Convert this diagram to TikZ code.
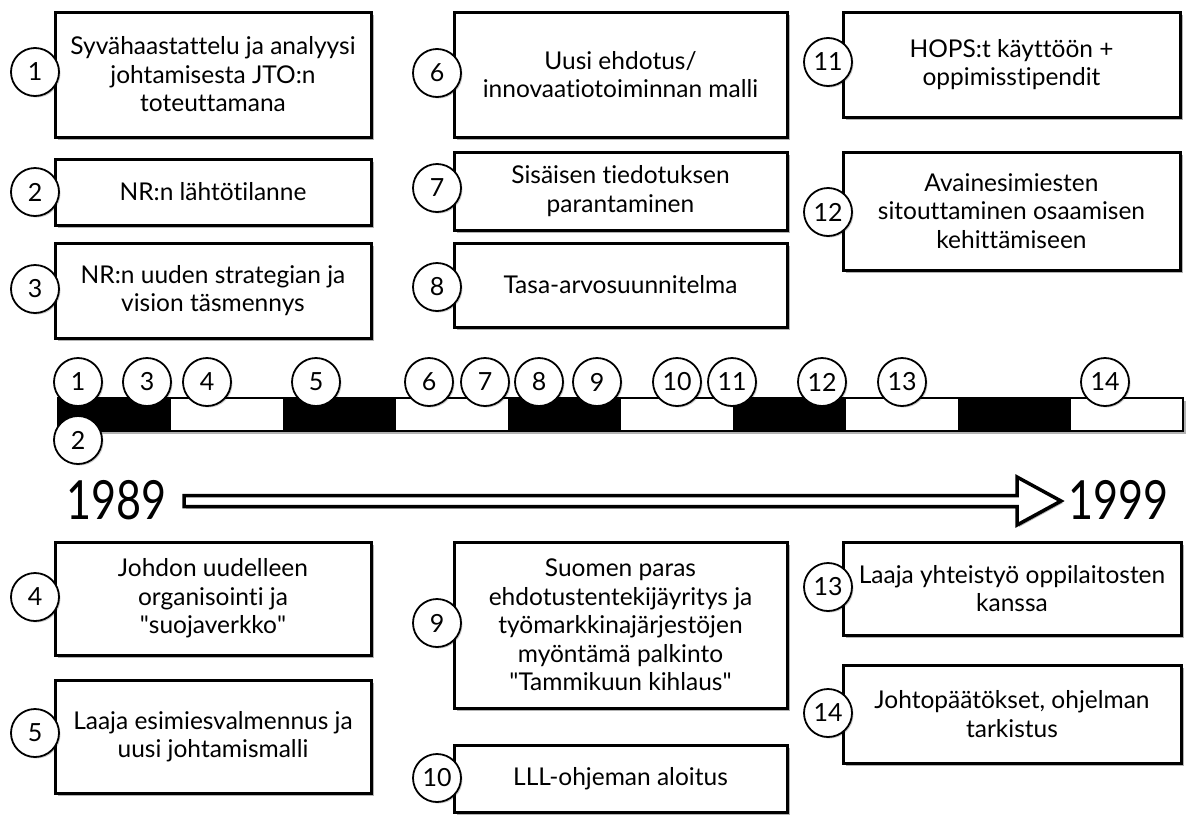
\documentclass[tikz,border=0pt]{standalone}
\usepackage{fontspec}
\usepackage{graphicx}
\setmainfont{Lato}[Ligatures={NoCommon}]
\newfontface\straightq{Lato}[Ligatures=TeXOff]
\usetikzlibrary{shadows}
\newcommand\qq{{\straightq\char34}}
\begin{document}
\begin{tikzpicture}[x=1pt,y=-1pt,
  shade/.style={drop shadow={shadow xshift=2.5pt,shadow yshift=-2.5pt,fill=black,opacity=0.3}},
  evbox/.style={draw=black,line width=3pt,fill=white,shade,align=center,inner sep=0pt,
    font=\fontsize{24.5}{28.5}\selectfont},
  numc/.style={draw=black,line width=1.8pt,fill=white,circle,minimum size=48pt,inner sep=0pt,
    font=\fontsize{25}{25}\selectfont,
    drop shadow={shadow xshift=1.5pt,shadow yshift=-1.5pt,fill=black,opacity=0.2}},
  blk/.style={fill=black},
  year/.style={inner sep=0pt,font=\fontsize{54}{54}\selectfont}
]
\useasboundingbox (0,0) rectangle (1193,814);

% event boxes, upper row
\node[evbox,minimum width=316pt,minimum height=125pt] (b1) at (213,74.5)
  {Syvähaastattelu ja analyysi\\johtamisesta JTO:n\\toteuttamana};
\node[evbox,minimum width=316pt,minimum height=66pt] (b2) at (213,192)
  {NR:n lähtötilanne};
\node[evbox,minimum width=316pt,minimum height=95pt] (b3) at (213,290.5)
  {NR:n uuden strategian ja\\vision täsmennys};
\node[evbox,minimum width=333pt,minimum height=125pt] (b6) at (620.5,74.5)
  {Uusi ehdotus/\\innovaatiotoiminnan malli};
\node[evbox,minimum width=333pt,minimum height=78pt] (b7) at (620.5,191)
  {Sisäisen tiedotuksen\\parantaminen};
\node[evbox,minimum width=333pt,minimum height=84pt] (b8) at (620.5,285)
  {Tasa-arvosuunnitelma};
\node[evbox,minimum width=337pt,minimum height=105pt] (b11) at (1011.5,64.5)
  {HOPS:t käyttöön +\\oppimisstipendit};
\node[evbox,minimum width=337pt,minimum height=118pt] (b12) at (1011.5,211)
  {Avainesimiesten\\sitouttaminen osaamisen\\kehittämiseen};

% event boxes, lower row
\node[evbox,minimum width=316pt,minimum height=113pt] (b4) at (213,598.5)
  {Johdon uudelleen\\organisointi ja\\\qq suojaverkko\qq};
\node[evbox,minimum width=316pt,minimum height=113pt] (b5) at (213,736.5)
  {Laaja esimiesvalmennus ja\\uusi johtamismalli};
\node[evbox,minimum width=333pt,minimum height=166pt] (b9) at (620.5,625)
  {Suomen paras\\ehdotustentekijäyritys ja\\työmarkkinajärjestöjen\\myöntämä palkinto\\\qq Tammikuun kihlaus\qq};
\node[evbox,minimum width=333pt,minimum height=67pt] (b10) at (620.5,778.5)
  {LLL-ohjeman aloitus};
\node[evbox,minimum width=338pt,minimum height=93pt] (b13) at (1012,588.5)
  {Laaja yhteistyö oppilaitosten\\kanssa};
\node[evbox,minimum width=338pt,minimum height=98pt] (b14) at (1012,714)
  {Johtopäätökset, ohjelman\\tarkistus};

% number tags on the boxes
\node[numc] (c1) at (35,72) {1};
\node[numc] (c2) at (35,192) {2};
\node[numc] (c3) at (35,289) {3};
\node[numc] (c4) at (35,597) {4};
\node[numc] (c5) at (35,733) {5};
\node[numc] (c6) at (437,73) {6};
\node[numc] (c7) at (437,188) {7};
\node[numc] (c8) at (437,287) {8};
\node[numc] (c9) at (437,623) {9};
\node[numc] (c10) at (437,778) {10};
\node[numc] (c11) at (828,62) {11};
\node[numc] (c12) at (828,212) {12};
\node[numc] (c13) at (828,587) {13};
\node[numc] (c14) at (828,713) {14};

% timeline bar: ten alternating segments
\fill[black,opacity=0.3] (60.5,400.5) rectangle (1185.5,433.5);
\fill[white] (58,398) rectangle (1183,431);
\foreach \i in {0,2,4,6,8} {
  \fill[blk] ({58+112.5*\i},398) rectangle ({58+112.5*(\i+1)},431);
}
\draw[line width=2pt] (58,398) rectangle (1183,431);

% timeline markers
\node[numc] (t1) at (78,382) {1};
\node[numc] (t2) at (78,440) {2};
\node[numc] (t3) at (147,382) {3};
\node[numc] (t4) at (207,382) {4};
\node[numc] (t5) at (316,382) {5};
\node[numc] (t6) at (429,382) {6};
\node[numc] (t7) at (485,382) {7};
\node[numc] (t8) at (539,382) {8};
\node[numc] (t9) at (597,382) {9};
\node[numc] (t10) at (677,382) {10};
\node[numc] (t11) at (732,382) {11};
\node[numc] (t12) at (822,382) {12};
\node[numc] (t13) at (902,382) {13};
\node[numc] (t14) at (1105,382) {14};

% years and the hollow arrow between them
\node[year,anchor=east] (y1) at (167,500) {\scalebox{0.8}[1]{1989}};
\node[year,anchor=west] (y2) at (1068,500) {\scalebox{0.8}[1]{1999}};
\draw[line width=3.5pt,fill=white,line join=miter,
  drop shadow={shadow xshift=2pt,shadow yshift=-2pt,fill=black,opacity=0.3}]
  (184,495.5) -- (1017,495.5) -- (1017,477) -- (1061,501) -- (1017,525)
  -- (1017,506.5) -- (184,506.5) -- cycle;
\end{tikzpicture}
\end{document}
